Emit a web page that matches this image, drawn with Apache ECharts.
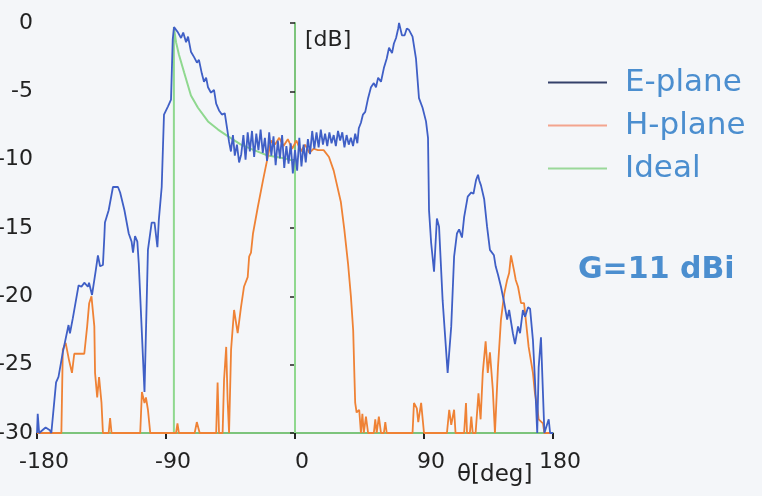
<!DOCTYPE html>
<html>
<head>
<meta charset="utf-8">
<script src="https://cdn.jsdelivr.net/npm/echarts@6/dist/echarts.min.js"></script>
<style>html,body{margin:0;padding:0;background:#f4f6f9;}#c{width:762px;height:496px;}</style>
</head>
<body>
<div id="c"></div>
<script>
// ---- data (angle in deg, level in dB) ----
var xTicks = [-180, -90, 0, 90, 180];
var yTicks = [0, -5, -10, -15, -20, -25, -30];
var seriesNames = ['E-plane', 'H-plane', 'Ideal'];

var ePlane = [
  [-180,-30],[-179.5,-28.6],[-178.5,-30],[-174,-29.6],[-171,-29.8],[-170,-30],[-166.7,-26.3],[-165,-25.9],
  [-162,-24.1],[-158,-22.1],[-157,-22.7],[-155,-21.6],[-151,-19.2],[-149,-19.3],[-147,-19.0],[-144.5,-19.3],
  [-143.7,-19.0],[-141.6,-19.9],[-139,-18.1],[-137.5,-17.0],[-136,-17.8],[-134,-17.7],[-133,-15.6],[-132.6,-14.6],
  [-130,-13.7],[-127,-12.0],[-123.5,-12.0],[-122,-12.4],[-119,-13.7],[-116,-15.4],[-114,-16.0],[-113,-16.8],
  [-111.6,-15.6],[-110,-16.0],[-109,-17.6],[-105,-27.0],[-102.6,-16.6],[-100,-14.6],[-98,-14.6],[-96,-16.4],
  [-95,-14.4],[-93,-12.0],[-91.4,-6.7],[-88.6,-6.1],[-86.5,-5.6],[-85.3,-1.2],[-84.4,-0.3],[-81.6,-0.7],
  [-79.5,-1.1],[-78,-0.7],[-76,-1.4],[-74.6,-1.0],[-72.6,-2.1],[-70.4,-2.5],[-68.4,-2.9],[-67,-2.7],
  [-65,-3.7],[-63.5,-4.3],[-62,-4.0],[-60.7,-4.7],[-58.6,-5.1],[-56.5,-4.9],[-55,-5.9],[-53,-6.4],
  [-51,-6.7],[-49,-6.6],[-47.4,-7.7],[-46,-8.7],[-44.7,-9.4],[-43.3,-8.2],[-42,-9.7],[-40.5,-8.9],
  [-39,-10.2],[-37.5,-9.6],[-36,-8.2],[-34.5,-10.0],[-33,-8.0],[-31.5,-9.4],[-30,-7.9],[-28.5,-9.8],
  [-27,-8.1],[-25.5,-9.3],[-24,-7.8],[-22.5,-9.5],[-21,-8.4],[-19.5,-10.1],[-18,-8.0],[-16.5,-9.7],
  [-15,-8.3],[-13.5,-10.4],[-12,-8.6],[-10.5,-9.9],[-9,-8.2],[-7.5,-10.6],[-6,-9.0],[-4.5,-10.3],
  [-3,-8.8],[-1.5,-11.0],[0,-9.3],[1.5,-10.8],[3,-8.4],[4.5,-10.5],[6,-8.9],[7.5,-10.2],
  [9,-8.5],[10.5,-9.6],[12,-7.9],[13.5,-9.2],[15,-8.0],[16.5,-9.1],[18,-7.8],[19.5,-8.9],
  [21,-8.1],[22.5,-9.0],[24,-8.0],[25.5,-8.8],[27,-8.2],[28.5,-9.0],[30,-7.9],[31.5,-8.6],
  [33,-8.0],[34.5,-9.1],[36,-8.2],[37.5,-8.9],[39,-8.4],[40.5,-9.0],[42,-8.1],[43.5,-8.8],
  [44.5,-7.7],[46,-7.3],[47.4,-6.7],[49,-6.5],[51,-5.5],[53,-4.7],[55,-4.4],[56.5,-4.7],
  [58,-4.0],[60,-4.3],[62,-3.3],[64,-2.6],[65.6,-1.8],[67.7,-2.2],[69,-1.5],[70.5,-1.1],
  [72,-0.4],[72.6,0],[74.6,-0.9],[76.5,-0.9],[78,-0.4],[79.5,-0.5],[82,-1.0],[84.4,-2.6],
  [86.5,-5.5],[89,-6.2],[91.4,-7.2],[92.8,-8.4],[93.5,-13.7],[95,-16.1],[97,-18.2],[99,-14.3],
  [100.5,-14.9],[103,-20.3],[106.5,-25.6],[109,-22.2],[111,-17.1],[113,-15.4],[114.5,-15.1],[116.5,-15.7],
  [118,-14.2],[120.5,-12.7],[123,-12.4],[124.5,-12.5],[126.3,-11.5],[127.7,-11.1],[128.5,-11.5],[129.8,-11.9],
  [132,-12.9],[134,-14.9],[136,-16.6],[138.8,-17.0],[140,-17.8],[141.6,-18.4],[143.7,-19.3],[146,-20.5],
  [148,-21.7],[149.4,-21.0],[152,-22.7],[153.5,-23.5],[155.6,-22.2],[157,-22.7],[159,-21.0],[160.5,-21.5],
  [162.6,-20.8],[164,-20.9],[166,-23.2],[167.4,-26.1],[169,-30],[170,-25.2],[171.6,-23.0],[173,-27.1],
  [174,-30],[177,-29],[178,-30],[180,-30]
];

var hPlane = [
  [-180,-30],[-163,-30],[-162,-23.9],[-160,-23.4],[-157.6,-24.7],[-155.6,-25.6],[-154,-24.2],[-147,-24.2],
  [-145,-22.2],[-143.6,-20.5],[-142,-20.0],[-140,-22.2],[-139.5,-25.6],[-138,-27.4],[-136.7,-25.9],[-135,-27.8],
  [-134,-30],[-130,-30],[-129,-28.9],[-128,-30],[-108,-30],[-106.8,-27],[-105,-27.8],[-104,-27.4],
  [-102.6,-28.3],[-101,-30],[-83,-30],[-82,-29.3],[-81,-30],[-70,-30],[-68.5,-29.2],[-67.5,-29.6],
  [-66.5,-30],[-55,-30],[-54,-26.3],[-53,-30],[-50.5,-30],[-49.5,-26.1],[-48,-23.7],[-47,-27.6],
  [-46,-30],[-44.6,-23.9],[-42.5,-21.0],[-40,-22.7],[-37.7,-20.8],[-35.6,-19.3],[-33,-18.6],[-32,-17.1],
  [-30.7,-16.8],[-29.3,-15.4],[-26,-13.5],[-22.3,-11.5],[-19,-9.8],[-16.7,-8.6],[-14,-8.9],[-11,-8.4],
  [-8,-9.0],[-5,-8.5],[-2,-9.2],[1,-8.6],[4,-9.4],[7,-8.9],[10,-9.5],[13,-9.2],
  [16,-9.3],[20,-9.3],[23.7,-9.8],[27,-10.8],[32,-13.1],[34.4,-15.1],[37,-17.6],[39,-20.0],
  [40.6,-22.5],[41.5,-26],[42,-27.8],[43,-28.5],[44.8,-28.3],[46,-30],[47,-28.6],[48,-30],
  [49.5,-28.8],[51,-30],[55,-30],[56,-29.0],[57,-30],[58.5,-28.8],[60,-30],[62,-30],
  [63,-29.2],[64,-30],[82,-30],[83,-27.8],[85,-28.2],[86,-29.2],[88,-27.8],[90,-30],
  [106,-30],[107.6,-28.3],[109,-29.4],[111,-28.3],[112,-30],[118,-30],[119.3,-27.8],[120,-30],
  [122,-30],[123,-28.8],[124,-30],[126,-30],[128,-27.1],[129.5,-29],[131,-25.6],[133,-23.3],
  [134.5,-25.6],[136,-24.1],[138,-26.8],[139.5,-30],[141.6,-25.2],[143.7,-21.7],[146,-19.8],[148,-18.8],
  [149.4,-18.3],[150.7,-17.0],[152.8,-18.1],[154,-18.8],[155.6,-19.3],[157.7,-20.5],[159.8,-20.5],[161,-21.7],
  [163,-23.7],[166,-25.6],[167.4,-27.1],[169,-28.1],[170,-29],[173,-29.3],[174,-30],[180,-30]
];

var ideal = [
  [-84.5,-30],[-84.5,-0.3],[-83,-1.4],[-81,-2.3],[-77.4,-3.6],[-72.6,-5.3],[-67.7,-6.2],[-60.7,-7.2],
  [-53.7,-7.8],[-46.7,-8.3],[-37.7,-8.9],[-28.6,-9.3],[-19,-9.7],[-7.7,-9.9],[0,-10.1],[0,-30]
];

var FONT = 'DejaVu Sans';
var chart = echarts.init(document.getElementById('c'), null, {renderer: 'canvas'});
chart.setOption({
  backgroundColor: '#f4f6f9',
  animation: false,
  grid: {left: 37, right: 209, top: 23, bottom: 63, containLabel: false, outerBoundsMode: 'none'},
  xAxis: {
    type: 'value', min: xTicks[0], max: xTicks[xTicks.length - 1], interval: 90,
    axisLine: {onZero: false, lineStyle: {color: '#7cc47c', width: 2}},
    axisTick: {show: true, length: 6, lineStyle: {color: '#222', width: 2}},
    axisLabel: {fontFamily: FONT, fontSize: 22, color: '#222', margin: 18, padding: [0, 0, 0, 14],
      formatter: function (v) { return xTicks.indexOf(v) >= 0 ? String(v) : ''; }},
    splitLine: {show: false}
  },
  yAxis: {
    type: 'value', min: yTicks[yTicks.length - 1], max: yTicks[0], interval: 5,
    axisLine: {onZero: true, lineStyle: {color: '#7cc47c', width: 2}},
    axisTick: {show: true, length: 5, lineStyle: {color: '#222', width: 1.5}},
    axisLabel: {fontFamily: FONT, fontSize: 22, color: '#222', margin: 4},
    splitLine: {show: false}
  },
  legend: {
    orient: 'vertical', left: 543, top: 62, itemWidth: 59, itemHeight: 2, itemGap: 12,
    icon: 'rect',
    textStyle: {fontFamily: FONT, fontSize: 31, color: '#4b8ecf', padding: [0, 0, 0, 13]},
    data: [
      {name: seriesNames[0], itemStyle: {color: '#34406a'}},
      {name: seriesNames[1], itemStyle: {color: '#f3a48e'}},
      {name: seriesNames[2], itemStyle: {color: '#9ad89a'}}
    ]
  },
  graphic: [
    {type: 'text', left: 305, top: 29, style: {text: '[dB]', font: '22px "DejaVu Sans"', fill: '#222'}},
    {type: 'text', left: 457, top: 464, style: {text: 'θ[deg]', font: '23px "DejaVu Sans"', fill: '#222'}},
    {type: 'text', left: 578, top: 255, style: {text: 'G=11 dBi', font: 'bold 30px "DejaVu Sans"', fill: '#4b8ecf'}}
  ],
  series: [
    {name: seriesNames[2], type: 'line', data: ideal, showSymbol: false, symbol: 'none', z: 3,
      lineStyle: {color: '#8fd88f', width: 2}, itemStyle: {color: '#8fd88f'}},
    {name: seriesNames[1], type: 'line', data: hPlane, showSymbol: false, symbol: 'none', z: 4,
      lineStyle: {color: '#ef8235', width: 1.8}, itemStyle: {color: '#ef8235'}},
    {name: seriesNames[0], type: 'line', data: ePlane, showSymbol: false, symbol: 'none', z: 5,
      lineStyle: {color: '#3f5fc6', width: 1.8}, itemStyle: {color: '#3f5fc6'}}
  ]
});
</script>
</body>
</html>
